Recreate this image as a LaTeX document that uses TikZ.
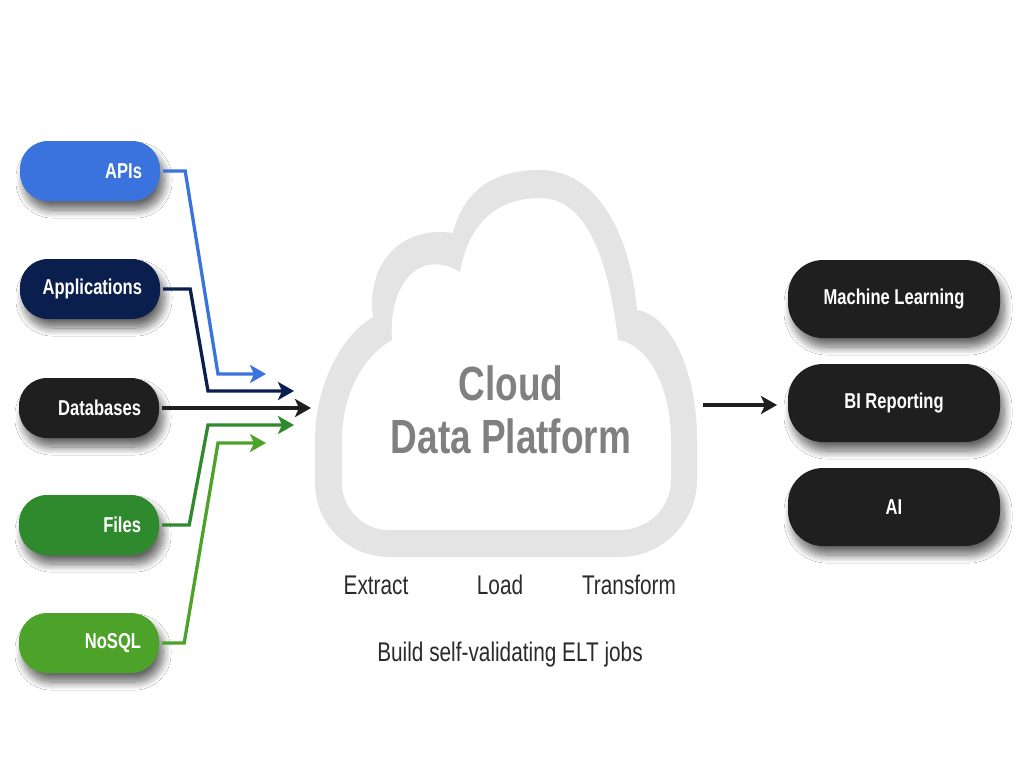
\documentclass[tikz,border=0pt]{standalone}
\usepackage{fontspec}
\setmainfont{Liberation Sans}[FakeStretch=0.77]
\usetikzlibrary{arrows.meta,shadows.blur}
\definecolor{cApi}{HTML}{3B73DE}
\definecolor{cApp}{HTML}{0A1F4D}
\definecolor{cDb}{HTML}{1F1F1F}
\definecolor{cFile}{HTML}{2E8A2C}
\definecolor{cNo}{HTML}{4DA32A}
\definecolor{cCloud}{HTML}{E4E4E4}
\definecolor{cCloudTxt}{HTML}{808080}
\definecolor{cTxt}{HTML}{2B2B2B}
\tikzset{
  pillshadow/.style={blur shadow={shadow xshift=4pt, shadow yshift=-9pt, shadow blur radius=8pt, shadow blur steps=12, shadow opacity=60}},
  src/.style={rectangle, rounded corners=28pt, minimum height=60pt, text width=104pt, inner xsep=18pt, inner ysep=0pt,
    align=right, text=white, font=\bfseries\fontsize{21.5}{24}\selectfont, pillshadow},
  dst/.style={rectangle, rounded corners=35pt, minimum height=78pt, minimum width=212pt, fill=cDb,
    align=center, text=white, font=\bfseries\fontsize{21.5}{24}\selectfont, pillshadow},
  conn/.style={line width=3.3pt, -{Stealth[length=16pt,width=18pt,inset=4pt]}},
  lbl/.style={text=cTxt, font=\fontsize{27}{30}\selectfont}
}
\begin{document}
\begin{tikzpicture}[x=1pt,y=-1pt]
\fill[white] (0,0) rectangle (1024,768);
\useasboundingbox (0,0) rectangle (1024,768);

% cloud outline (outer minus inner)
\fill[cCloud, even odd rule]
  (315,483) -- (315,440)
  .. controls (315,390) and (338,338) .. (373,317)
  .. controls (366,265) and (400,225) .. (453,233)
  .. controls (465,185) and (500,170) .. (540,170)
  .. controls (595,170) and (630,230) .. (637,310)
  .. controls (670,315) and (697,370) .. (697,440)
  -- (697,480)
  .. controls (697,522) and (662,557) .. (620,557)
  -- (389,557)
  .. controls (348,557) and (315,524) .. (315,483) -- cycle
  (342,483) -- (342,440)
  .. controls (342,395) and (362,357) .. (392,340)
  .. controls (388,283) and (420,248) .. (460,272)
  .. controls (470,215) and (505,198) .. (540,198)
  .. controls (585,198) and (608,255) .. (618,340)
  .. controls (650,345) and (671,390) .. (671,440)
  -- (671,480)
  .. controls (671,508) and (648,530) .. (620,530)
  -- (389,530)
  .. controls (363,530) and (342,509) .. (342,483) -- cycle;
\node[text=cCloudTxt, font=\bfseries\fontsize{48}{53}\selectfont, align=center] (cloud) at (511,410) {Cloud\\Data Platform};

% sources
\node[src, fill=cApi] (apis) at (90,171) {APIs};
\node[src, fill=cApp] (apps) at (90,289) {Applications};
\node[src, fill=cDb] (dbs) at (89,408) {Databases};
\node[src, fill=cFile] (files) at (89,525) {Files};
\node[src, fill=cNo] (nosql) at (89,643) {NoSQL};

% targets
\node[dst] (ml) at (894,299) {Machine Learning};
\node[dst] (bi) at (894,403) {BI Reporting};
\node[dst] (ai) at (894,507) {AI};

% connector points
\coordinate (kA) at (218,374); \coordinate (tA) at (266,374);
\coordinate (kB) at (208,391); \coordinate (tB) at (294,391);
\coordinate (tC) at (311,408);
\coordinate (kD) at (208,425); \coordinate (tD) at (294,425);
\coordinate (kE) at (218,443); \coordinate (tE) at (266,443);
\coordinate (oS) at (703,405); \coordinate (oT) at (777,405);

\draw[conn, cApi] ([xshift=3pt]apis.east) -- ++(22,0) -- (kA) -- (tA);
\draw[conn, cApp] ([xshift=3pt]apps.east) -- ++(27,0) -- (kB) -- (tB);
\draw[conn, cDb] ([xshift=3pt]dbs.east) -- (tC);
\draw[conn, cFile] ([xshift=3pt]files.east) -- ++(27,0) -- (kD) -- (tD);
\draw[conn, cNo] ([xshift=3pt]nosql.east) -- ++(22,0) -- (kE) -- (tE);
\draw[conn, cDb] (oS) -- (oT);

% labels
\node[lbl] (ext) at (376,585) {Extract};
\node[lbl] (lod) at (500,585) {Load};
\node[lbl] (trf) at (629,585) {Transform};
\node[lbl] (bld) at (510,655) {Build self-validating ELT jobs};
\end{tikzpicture}
\end{document}
